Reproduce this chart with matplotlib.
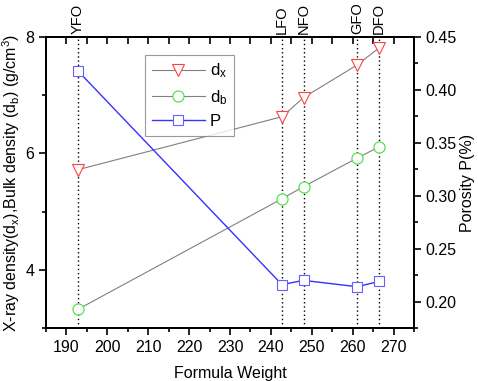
import matplotlib
matplotlib.use('Agg')
import matplotlib.pyplot as plt
from matplotlib.ticker import MultipleLocator

plt.rcParams['font.family'] = ['Liberation Sans', 'DejaVu Sans']
plt.rcParams['mathtext.fontset'] = 'custom'
plt.rcParams['mathtext.rm'] = 'Liberation Sans'
plt.rcParams['mathtext.it'] = 'Liberation Sans'

compounds = ['YFO', 'LFO', 'NFO', 'GFO', 'DFO']
formula_weight = [192.8, 242.7, 248.0, 261.1, 266.4]
d_x = [5.72, 6.63, 6.96, 7.52, 7.81]
d_b = [3.32, 5.22, 5.43, 5.92, 6.11]
porosity = [0.418, 0.216, 0.220, 0.214, 0.219]

fig = plt.figure(figsize=(4.78, 3.81), dpi=100)
ax = fig.add_axes([46 / 478, 1 - 328 / 381, 368 / 478, 291 / 381])
ax2 = ax.twinx()

for fw, name in zip(formula_weight, compounds):
    ax.axvline(fw, color='black', linestyle=(0, (1, 2)), linewidth=1.0, zorder=1)
    ax.text(fw, 1.012, name, transform=ax.get_xaxis_transform(), rotation=90,
            ha='center', va='bottom', fontsize=10.5)

l1, = ax.plot(formula_weight, d_x, color='gray', linewidth=0.8, marker='v',
              markersize=8, markerfacecolor='white', markeredgecolor='#ff4040',
              markeredgewidth=0.8, label='d$_x$', zorder=3)
l2, = ax.plot(formula_weight, d_b, color='gray', linewidth=0.8, marker='o',
              markersize=8, markerfacecolor='white', markeredgecolor='#40e040',
              markeredgewidth=0.8, label='d$_b$', zorder=3)
l3, = ax2.plot(formula_weight, porosity, color='#3333ff', linewidth=1.0,
               marker='s', markersize=7, markerfacecolor='white',
               markeredgecolor='#6a5cff', markeredgewidth=0.8, label='P')

ax.set_xlim(185, 275)
ax.set_ylim(3, 8)
ax2.set_ylim(0.175, 0.45)

ax.xaxis.set_major_locator(MultipleLocator(10))
ax.xaxis.set_minor_locator(MultipleLocator(5))
ax.yaxis.set_major_locator(MultipleLocator(2))
ax.yaxis.set_minor_locator(MultipleLocator(1))
ax2.yaxis.set_major_locator(MultipleLocator(0.05))
ax2.yaxis.set_minor_locator(MultipleLocator(0.025))
ax2.yaxis.set_major_formatter(plt.FormatStrFormatter('%.2f'))

ax.tick_params(axis='x', which='both', direction='out', labelsize=11.5, width=1.2)
ax.tick_params(axis='x', which='major', length=5)
ax.tick_params(axis='x', which='minor', length=3)
ax.tick_params(axis='y', which='both', direction='out', labelsize=11.5, width=1.2)
ax.tick_params(axis='y', which='major', length=5)
ax.tick_params(axis='y', which='minor', length=3)
ax2.tick_params(axis='y', which='both', direction='out', labelsize=11.5, width=1.2)
ax2.tick_params(axis='y', which='major', length=5)
ax2.tick_params(axis='y', which='minor', length=3)

# inward ticks on the top spine
top = ax.secondary_xaxis('top')
top.xaxis.set_major_locator(MultipleLocator(10))
top.xaxis.set_minor_locator(MultipleLocator(5))
top.tick_params(axis='x', which='both', direction='in', labeltop=False, width=1.2)
top.tick_params(axis='x', which='major', length=5)
top.tick_params(axis='x', which='minor', length=5)

for a in (ax, ax2, top):
    for s in a.spines.values():
        s.set_linewidth(1.4)

ax.set_xlabel('Formula Weight', fontsize=11.5, labelpad=8)
ax.set_ylabel('X-ray density(d$_x$),Bulk density (d$_b$) (g/cm$^3$)',
              fontsize=11.5, labelpad=2)
ax2.set_ylabel('Porosity P(%)', fontsize=11.5, labelpad=2)

leg = ax.legend(handles=[l1, l2, l3], loc='upper left',
                bbox_to_anchor=(99 / 368, 1 - 18 / 291), borderaxespad=0,
                fontsize=12, frameon=True, fancybox=False, edgecolor='gray',
                handlelength=3.2, handletextpad=0.3, borderpad=0.4,
                labelspacing=0.45)
leg.get_frame().set_linewidth(0.8)

fig.savefig('out.png', dpi=100)
